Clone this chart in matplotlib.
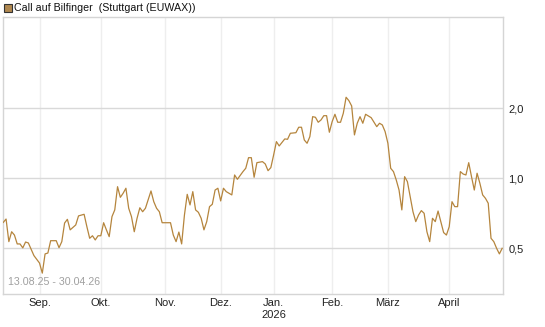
import matplotlib
matplotlib.use("Agg")
import matplotlib.pyplot as plt
from matplotlib.patches import Rectangle
import pandas as pd

plt.rcParams['font.family'] = ['Liberation Sans', 'DejaVu Sans']

# Handelstage Stuttgart 13.08.25 - 30.04.26
start = '2025-08-13'
end = '2026-04-30'
holidays = ['2025-12-24', '2025-12-25', '2025-12-26', '2025-12-31',
            '2026-01-01', '2026-04-03', '2026-04-06']

# Handelstag-Nummer (ab 13.08.25) und Kurs
day = [0, 1, 2, 3, 4, 5, 6, 7, 8, 9, 11, 13, 14, 15, 16, 17, 19, 20, 21, 22,
       23, 24, 26, 27, 29, 30, 31, 32, 33, 34, 35, 36, 37, 38, 39, 40, 41, 42,
       43, 44, 45, 46, 47, 48, 49, 50, 51, 53, 54, 55, 56, 57, 60, 61, 62, 63,
       64, 65, 66, 67, 68, 69, 70, 71, 72, 73, 74, 75, 76, 77, 78, 79, 80, 82,
       83, 84, 86, 87, 88, 89, 90, 91, 93, 94, 95, 96, 97, 98, 99, 101, 102,
       103, 105, 106, 107, 108, 109, 110, 111, 112, 113, 114, 115, 116, 117,
       118, 119, 120, 121, 122, 123, 124, 125, 126, 127, 128, 129, 130, 132,
       134, 135, 136, 137, 138, 139, 140, 141, 142, 143, 144, 145, 146, 147,
       148, 149, 150, 151, 152, 153, 154, 155, 156, 157, 158, 159, 160, 161,
       162, 163, 164, 165, 166, 167, 168, 169, 170, 171, 172, 173, 174, 175,
       176, 177, 178, 179]
price = [0.646, 0.668, 0.534, 0.589, 0.570, 0.522, 0.522, 0.502, 0.532, 0.527,
         0.465, 0.432, 0.391, 0.473, 0.477, 0.539, 0.539, 0.503, 0.534, 0.642,
         0.666, 0.600, 0.630, 0.689, 0.700, 0.619, 0.552, 0.566, 0.543, 0.566,
         0.566, 0.644, 0.600, 0.561, 0.684, 0.731, 0.920, 0.828, 0.862, 0.906,
         0.743, 0.684, 0.589, 0.673, 0.747, 0.718, 0.743, 0.882, 0.793, 0.743,
         0.718, 0.644, 0.644, 0.570, 0.534, 0.587, 0.522, 0.695, 0.853, 0.768,
         0.876, 0.731, 0.714, 0.673, 0.600, 0.651, 0.755, 0.773, 0.890, 0.906,
         0.799, 0.906, 0.876, 0.848, 1.033, 0.990, 1.068, 1.104, 1.226, 1.226,
         1.010, 1.167, 1.179, 1.152, 1.078, 1.111, 1.259, 1.437, 1.377, 1.476,
         1.471, 1.561, 1.570, 1.657, 1.657, 1.461, 1.414, 1.510, 1.840, 1.829,
         1.741, 1.781, 1.858, 1.858, 1.577, 1.752, 1.884, 1.741, 1.741, 1.903,
         2.230, 2.156, 2.046, 1.536, 1.724, 1.840, 1.724, 1.884, 1.822, 1.667,
         1.724, 1.695, 1.587, 1.414, 1.104, 1.068, 0.983, 0.890, 0.731, 1.016,
         0.967, 0.834, 0.718, 0.651, 0.695, 0.726, 0.707, 0.589, 0.534, 0.673,
         0.651, 0.723, 0.651, 0.584, 0.570, 0.619, 0.793, 0.755, 0.755, 1.068,
         1.043, 1.033, 1.167, 1.016, 0.890, 1.051, 0.952, 0.848, 0.820, 0.781,
         0.552, 0.534, 0.500, 0.473, 0.500]

month_labels = ['Sep.', 'Okt.', 'Nov.', 'Dez.', 'Jan.\n2026', 'Feb.', 'März', 'April']
y_ticks = [0.5, 1.0, 2.0]
y_labels = ['0,5', '1,0', '2,0']

sessions = pd.bdate_range(start, end)
sessions = sessions[~sessions.isin(pd.to_datetime(holidays))]
s = pd.Series(range(len(sessions)), index=sessions)
first_days = s.groupby(s.index.to_period('M')).first().iloc[1:]

W, H = 545, 327
fig = plt.figure(figsize=(W / 100, H / 100), dpi=100)
ax = fig.add_axes([3 / W, 1 - 294 / H, 500 / W, (294 - 16.7) / H])

line_col = '#b5853d'
ax.plot(day, price, color=line_col, lw=0.9, zorder=3)

ax.set_yscale('log')
ax.set_ylim(0.318, 4.95)
ax.set_xlim(-0.1, 179.3)
ax.set_yticks(y_ticks)
ax.set_yticklabels(y_labels)
ax.yaxis.set_minor_locator(plt.NullLocator())
ax.yaxis.tick_right()
ax.set_xticks(first_days.values)
ax.set_xticklabels(month_labels)
ax.tick_params(axis='both', length=0, labelsize=8, colors='#222222')
ax.tick_params(axis='y', pad=4)
ax.tick_params(axis='x', pad=3)

ax.grid(axis='y', color='#d9d9d9', lw=1.0)
ax.grid(axis='x', color='#eeeeee', lw=1.0)
ax.set_axisbelow(True)
for sp in ax.spines.values():
    sp.set_color('#d5d5d5')
    sp.set_linewidth(1.0)

ax.text(0.011, 0.025, '13.08.25 - 30.04.26', transform=ax.transAxes,
        fontsize=7.7, color='#a0a0a0', ha='left', va='bottom')

# Legende oben links
fig.patches.append(Rectangle((4 / W, 1 - 12 / H), 8 / W, 8 / H,
                             transform=fig.transFigure, facecolor='#b08850',
                             edgecolor='#333333', lw=0.8))
fig.text(14 / W, 1 - 8 / H, 'Call auf Bilfinger  (Stuttgart (EUWAX))',
         fontsize=7.7, color='#111111', ha='left', va='center')

fig.savefig('out.png', dpi=100)
